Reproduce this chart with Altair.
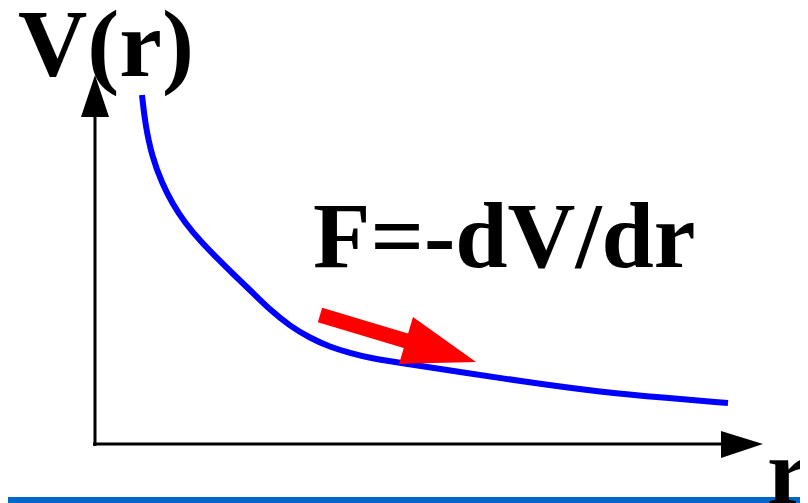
import altair as alt
import pandas as pd

# Potential curve V(r) (schematic), in diagram units
curve_r = [4.7, 5.0, 5.7, 6.7, 7.7, 9.0, 10.7, 12.3, 13.7, 15.5, 17.5, 19.5, 21.5,
           23.5, 25.5, 27.5, 30.5, 37.2, 43.8, 50.5, 57.2, 63.3]
curve_v = [34.9, 32.1, 28.7, 26.1, 24.1, 22.1, 20.1, 18.5, 17.1, 15.4, 13.4, 11.8, 10.6,
           9.7, 9.1, 8.6, 8.1, 7.1, 6.1, 5.2, 4.6, 4.1]

# Axes lines
xaxis_r = [-0.2, 62.7]
xaxis_v = [0.0, 0.0]
yaxis_r = [0.0, 0.0]
yaxis_v = [-0.2, 32.8]

# Arrowheads
xhead_r = [62.6, 66.8]
xhead_top = [1.3, 0.0]
xhead_bot = [-1.4, 0.0]
yhead_v = [32.7, 36.9]
yhead_left = [-1.4, 0.0]
yhead_right = [1.4, 0.0]

# Red force arrow
shaft_r = [22.5, 31.5]
shaft_v = [12.9, 10.2]
head_r = [30.4, 31.8, 38.1]
head_top = [8.0, 12.7, 8.2]
head_bot = [8.0, 8.04, 8.2]

# Labels
labels = ["V(r)", "F=-dV/dr", "r"]
label_r = [-7.7, 21.8, 67.2]
label_v = [36.8, 17.7, -6.0]
label_size = [96, 94, 96]

# Bottom rule
bar_r = [-8.7, 70.5]
bar_v = [-5.6, -5.6]

XS = alt.Scale(domain=[-8.7, 70.5], nice=False, zero=False)
YS = alt.Scale(domain=[-5.9, 43.6], nice=False, zero=False)


def X(field, **kw):
    return alt.X(field, type="quantitative", scale=XS, axis=None, **kw)


def Y(field, **kw):
    return alt.Y(field, type="quantitative", scale=YS, axis=None, **kw)


bar = alt.Chart(pd.DataFrame({"r": [bar_r[0]], "r2": [bar_r[1]], "v": [bar_v[0]]})).mark_rule(
    color="#0066CC", strokeWidth=6, strokeCap="butt"
).encode(x=X("r"), x2="r2", y=Y("v"))

xaxis = alt.Chart(pd.DataFrame({"r": [xaxis_r[0]], "r2": [xaxis_r[1]], "v": [xaxis_v[0]]})).mark_rule(
    color="black", strokeWidth=3, strokeCap="butt"
).encode(x=X("r"), x2="r2", y=Y("v"))

yaxis = alt.Chart(pd.DataFrame({"r": [yaxis_r[0]], "v": [yaxis_v[0]], "v2": [yaxis_v[1]]})).mark_rule(
    color="black", strokeWidth=3, strokeCap="butt"
).encode(x=X("r"), y=Y("v"), y2="v2")

xhead = alt.Chart(pd.DataFrame({"r": xhead_r, "t": xhead_top, "b": xhead_bot})).mark_area(
    color="black", orient="vertical"
).encode(x=X("r"), y=Y("t"), y2="b")

yhead = alt.Chart(pd.DataFrame({"v": yhead_v, "l": yhead_left, "rr": yhead_right})).mark_area(
    color="black", orient="horizontal"
).encode(y=Y("v"), x=X("l"), x2="rr")

curve = alt.Chart(pd.DataFrame({"r": curve_r, "v": curve_v, "i": list(range(len(curve_r)))})).mark_line(
    color="#0000FF", strokeWidth=6, interpolate="basis", strokeCap="butt"
).encode(x=X("r"), y=Y("v"), order="i:Q")

shaft = alt.Chart(pd.DataFrame({"r": [shaft_r[0]], "r2": [shaft_r[1]], "v": [shaft_v[0]], "v2": [shaft_v[1]]})).mark_rule(
    color="#FF0000", strokeWidth=15, strokeCap="butt"
).encode(x=X("r"), x2="r2", y=Y("v"), y2="v2")

head = alt.Chart(pd.DataFrame({"r": head_r, "t": head_top, "b": head_bot})).mark_area(
    color="#FF0000", orient="vertical"
).encode(x=X("r"), y=Y("t"), y2="b")

text = alt.Chart(pd.DataFrame({"t": labels, "r": label_r, "v": label_v, "s": label_size})).mark_text(
    font="Liberation Serif", fontWeight="bold", align="left", baseline="alphabetic", color="black"
).encode(x=X("r"), y=Y("v"), text="t:N", size=alt.Size("s:Q", scale=None, legend=None))

chart = alt.layer(bar, xaxis, yaxis, xhead, yhead, curve, shaft, head, text).properties(
    width=792, height=495, padding=0, background="white",
    autosize=alt.AutoSizeParams(type="none")
).configure_view(stroke=None)

chart.save("out.html", embed_options={"renderer": "svg", "actions": False})
